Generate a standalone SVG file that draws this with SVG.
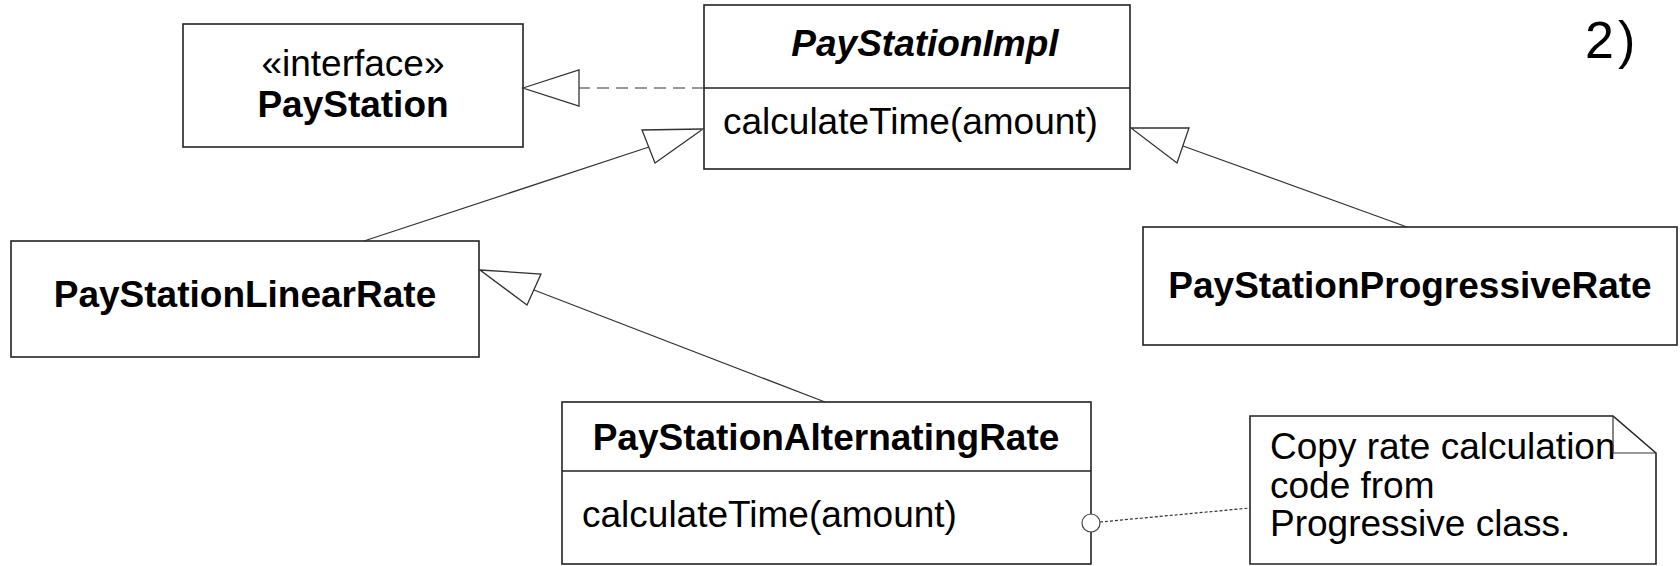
<svg xmlns="http://www.w3.org/2000/svg" width="1680" height="566" viewBox="0 0 1680 566">
  <style>
    .box { fill: #ffffff; stroke: #222222; stroke-width: 1.6; }
    .sep { stroke: #222222; stroke-width: 1.4; }
    .edge { fill: none; stroke: #333333; stroke-width: 1.2; }
    .head { fill: #ffffff; stroke: #333333; stroke-width: 1.3; stroke-linejoin: miter; }
    .t { font-family: "Liberation Sans", Arial, sans-serif; font-size: 37px; fill: #000000; }
    .b { font-weight: bold; }
    .i { font-style: italic; }
    .mid { text-anchor: middle; }
    .num { font-size: 52px; letter-spacing: 4px; }
  </style>

  <rect width="1680" height="566" fill="#ffffff"/>

  <g id="PayStation">
    <rect class="box" x="183" y="24" width="340" height="123"/>
    <text class="t mid" x="353" y="76">«interface»</text>
    <text class="t b mid" x="353" y="117">PayStation</text>
  </g>

  <g id="PayStationImpl">
    <rect class="box" x="704" y="5" width="426" height="164"/>
    <line class="sep" x1="704" y1="88" x2="1130" y2="88"/>
    <text class="t b i mid" x="925" y="56">PayStationImpl</text>
    <text class="t" x="723" y="134">calculateTime(amount)</text>
  </g>

  <g id="PayStationLinearRate">
    <rect class="box" x="11" y="241" width="468" height="116"/>
    <text class="t b mid" x="245" y="307">PayStationLinearRate</text>
  </g>

  <g id="PayStationProgressiveRate">
    <rect class="box" x="1143" y="227" width="534" height="118"/>
    <text class="t b mid" x="1410" y="298">PayStationProgressiveRate</text>
  </g>

  <g id="PayStationAlternatingRate">
    <rect class="box" x="562" y="402" width="529" height="162"/>
    <line class="sep" x1="562" y1="471" x2="1091" y2="471"/>
    <text class="t b mid" x="826" y="450">PayStationAlternatingRate</text>
    <text class="t" x="582" y="527">calculateTime(amount)</text>
  </g>

  <g id="note">
    <path class="box" d="M1250,416 H1613 L1656,453 V564 H1250 Z"/>
    <text class="t" x="1270" y="459">Copy rate calculation</text>
    <path class="edge" d="M1613,416 V453 H1656" stroke="#222222" stroke-width="1.4"/>
    <text class="t" x="1270" y="498">code from</text>
    <text class="t" x="1270" y="536">Progressive class.</text>
  </g>

  <!-- connectors, drawn above the boxes so the heads and anchor sit on the edges -->
  <g id="connectors">
    <!-- PayStationImpl realizes PayStation -->
    <line class="edge" x1="704" y1="88" x2="579" y2="88" stroke-dasharray="12 7"/>
    <polygon class="head" points="523,88 579,70 579,106"/>
    <!-- PayStationLinearRate extends PayStationImpl -->
    <line class="edge" x1="364" y1="241" x2="649" y2="147"/>
    <polygon class="head" points="703,129 642,130 655,163"/>
    <!-- PayStationProgressiveRate extends PayStationImpl -->
    <line class="edge" x1="1407" y1="227" x2="1183" y2="146"/>
    <polygon class="head" points="1131,128 1189,128 1177,163"/>
    <!-- PayStationAlternatingRate extends PayStationLinearRate -->
    <line class="edge" x1="825" y1="402" x2="534" y2="290"/>
    <polygon class="head" points="480,270 541,274 527,305"/>
    <!-- note anchor -->
    <line class="edge" x1="1100" y1="522" x2="1250" y2="508" stroke-dasharray="3 2" stroke-width="1"/>
    <circle cx="1091" cy="523" r="9" fill="#ffffff" stroke="#444444" stroke-width="1.2"/>
  </g>

  <text id="label" class="t num" x="1585" y="58">2)</text>
</svg>
